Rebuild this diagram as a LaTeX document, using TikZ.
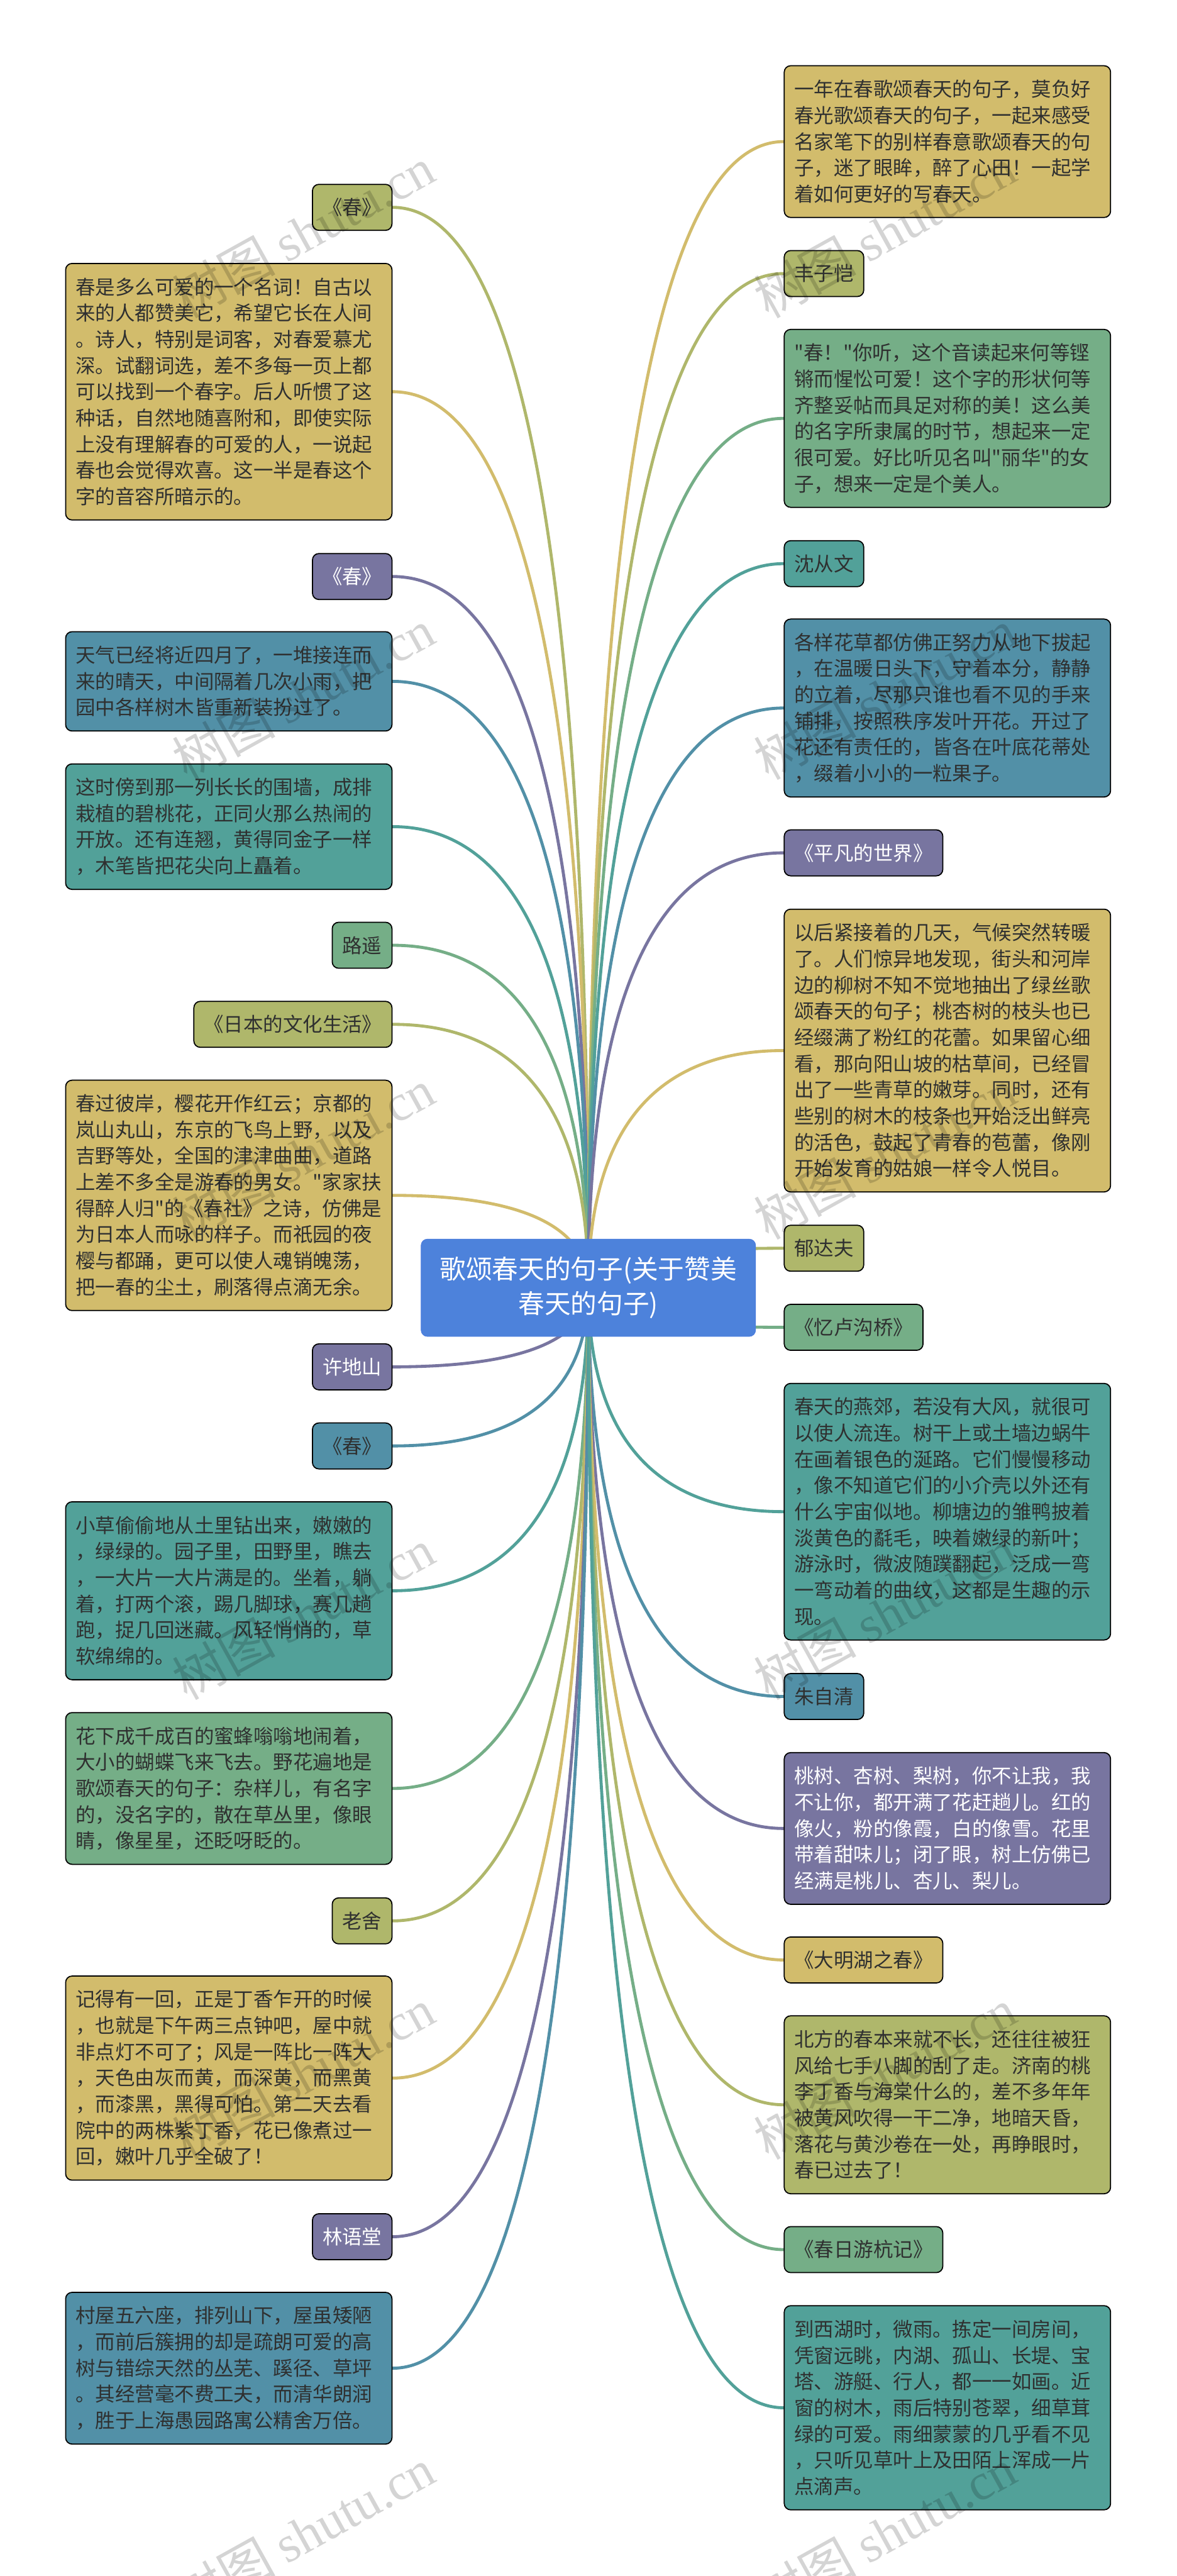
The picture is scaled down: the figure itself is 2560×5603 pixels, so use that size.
\documentclass[tikz,border=0pt]{standalone}
\usepackage{fontspec}
\setmainfont{Noto Sans CJK SC}[Ligatures=TeXOff]
\newfontfamily\markfont{Liberation Serif}
\usetikzlibrary{calc,backgrounds}
\definecolor{cyellow}{HTML}{D2BC6C}
\definecolor{colive}{HTML}{AFB76B}
\definecolor{cgreen}{HTML}{75AE87}
\definecolor{cteal}{HTML}{52A199}
\definecolor{cblue}{HTML}{5290A7}
\definecolor{cpurple}{HTML}{7875A0}
\definecolor{croot}{HTML}{4D82DB}
\definecolor{cink}{HTML}{2F3030}
\tikzset{
  card/.style={draw=black,line width=1.2pt,rounded corners=7pt,inner xsep=11pt,inner ysep=0pt,text=cink},
  para/.style={card,text width=333pt,align=left,font=\fontsize{21.5pt}{28.5pt}\selectfont,minimum height=#1*28.5pt+22.5pt},
  tag/.style={card,minimum height=50pt,font=\fontsize{21.5pt}{28.5pt}\selectfont},
  link/.style={line width=3.3pt,line cap=round},
  wmark/.style={font=\fontsize{56pt}{56pt}\selectfont,rotate=29,text=black,text opacity=0.17}
}
% curve from a left or right branch into the root
\newcommand{\leftlink}[2]{\draw[link,#2] (#1.east) .. controls ($(#1.east)!0.83!(root.center |- #1.east)$) and ($(root.center)!0.47!(root.center |- #1.east)$) .. (root.center);}
\newcommand{\rightlink}[2]{\draw[link,#2] (#1.west) .. controls ($(#1.west)!0.83!(root.center |- #1.west)$) and ($(root.center)!0.47!(root.center |- #1.west)$) .. (root.center);}
\begin{document}
\begin{tikzpicture}[x=0.5pt,y=-0.5pt]
    \useasboundingbox (0,0) rectangle (2560,5603);
    \node[draw=croot!90!blue,fill=croot,rounded corners=7pt,text=white,align=center,minimum width=364pt,minimum height=106pt,font=\fontsize{28.5pt}{38pt}\selectfont] (root) at (1280,2801) {歌颂春天的句子(关于赞美\\春天的句子)};

    % left column
    \node[tag,fill=colive,anchor=east] (spring1) at (854,451) {《春》};
    \node[para=9,fill=cyellow,anchor=east] (lovely) at (854,852) {春是多么可爱的一个名词！自古以\\来的人都赞美它，希望它长在人间\\。诗人，特别是词客，对春爱慕尤\\深。试翻词选，差不多每一页上都\\可以找到一个春字。后人听惯了这\\种话，自然地随喜附和，即使实际\\上没有理解春的可爱的人，一说起\\春也会觉得欢喜。这一半是春这个\\字的音容所暗示的。};
    \node[tag,fill=cpurple,text=white,anchor=east] (spring2) at (854,1254) {《春》};
    \node[para=3,fill=cblue,anchor=east] (weather) at (854,1482) {天气已经将近四月了，一堆接连而\\来的晴天，中间隔着几次小雨，把\\园中各样树木皆重新装扮过了。};
    \node[para=4,fill=cteal,anchor=east] (wall) at (854,1798) {这时傍到那一列长长的围墙，成排\\栽植的碧桃花，正同火那么热闹的\\开放。还有连翘，黄得同金子一样\\，木笔皆把花尖向上矗着。};
    \node[tag,fill=cgreen,anchor=east] (luyao) at (854,2056) {路遥};
    \node[tag,fill=colive,anchor=east] (japan) at (854,2228) {《日本的文化生活》};
    \node[para=8,fill=cyellow,anchor=east] (sakura) at (854,2600) {春过彼岸，樱花开作红云；京都的\\岚山丸山，东京的飞鸟上野，以及\\吉野等处，全国的津津曲曲，道路\\上差不多全是游春的男女。"家家扶\\得醉人归"的《春社》之诗，仿佛是\\为日本人而咏的样子。而祇园的夜\\樱与都踊，更可以使人魂销魄荡，\\把一春的尘土，刷落得点滴无余。};
    \node[tag,fill=cpurple,text=white,anchor=east] (xudishan) at (854,2973) {许地山};
    \node[tag,fill=cblue,anchor=east] (spring3) at (854,3145) {《春》};
    \node[para=6,fill=cteal,anchor=east] (grass) at (854,3460) {小草偷偷地从土里钻出来，嫩嫩的\\，绿绿的。园子里，田野里，瞧去\\，一大片一大片满是的。坐着，躺\\着，打两个滚，踢几脚球，赛几趟\\跑，捉几回迷藏。风轻悄悄的，草\\软绵绵的。};
    \node[para=5,fill=cgreen,anchor=east] (bees) at (854,3890) {花下成千成百的蜜蜂嗡嗡地闹着，\\大小的蝴蝶飞来飞去。野花遍地是\\歌颂春天的句子：杂样儿，有名字\\的，没名字的，散在草丛里，像眼\\睛，像星星，还眨呀眨的。};
    \node[tag,fill=colive,anchor=east] (laoshe) at (854,4178) {老舍};
    \node[para=7,fill=cyellow,anchor=east] (lilac) at (854,4520) {记得有一回，正是丁香乍开的时候\\，也就是下午两三点钟吧，屋中就\\非点灯不可了；风是一阵比一阵大\\，天色由灰而黄，而深黄，而黑黄\\，而漆黑，黑得可怕。第二天去看\\院中的两株紫丁香，花已像煮过一\\回，嫩叶几乎全破了！};
    \node[tag,fill=cpurple,text=white,anchor=east] (linyutang) at (854,4865) {林语堂};
    \node[para=5,fill=cblue,anchor=east] (village) at (854,5151) {村屋五六座，排列山下，屋虽矮陋\\，而前后簇拥的却是疏朗可爱的高\\树与错综天然的丛芜、蹊径、草坪\\。其经营毫不费工夫，而清华朗润\\，胜于上海愚园路寓公精舍万倍。};

    % right column
    \node[para=5,fill=cyellow,anchor=west] (year) at (1705,308) {一年在春歌颂春天的句子，莫负好\\春光歌颂春天的句子，一起来感受\\名家笔下的别样春意歌颂春天的句\\子，迷了眼眸，醉了心田！一起学\\着如何更好的写春天。};
    \node[tag,fill=colive,anchor=west] (fengzikai) at (1705,595) {丰子恺};
    \node[para=6,fill=cgreen,anchor=west] (sound) at (1705,910) {"春！"你听，这个音读起来何等铿\\锵而惺忪可爱！这个字的形状何等\\齐整妥帖而具足对称的美！这么美\\的名字所隶属的时节，想起来一定\\很可爱。好比听见名叫"丽华"的女\\子，想来一定是个美人。};
    \node[tag,fill=cteal,anchor=west] (shencongwen) at (1705,1226) {沈从文};
    \node[para=6,fill=cblue,anchor=west] (flowers) at (1705,1540) {各样花草都仿佛正努力从地下拔起\\，在温暖日头下，守着本分，静静\\的立着，尽那只谁也看不见的手来\\铺排，按照秩序发叶开花。开过了\\花还有责任的，皆各在叶底花蒂处\\，缀着小小的一粒果子。};
    \node[tag,fill=cpurple,text=white,anchor=west] (ordinary) at (1705,1855) {《平凡的世界》};
    \node[para=10,fill=cyellow,anchor=west] (warm) at (1705,2285) {以后紧接着的几天，气候突然转暖\\了。人们惊异地发现，街头和河岸\\边的柳树不知不觉地抽出了绿丝歌\\颂春天的句子；桃杏树的枝头也已\\经缀满了粉红的花蕾。如果留心细\\看，那向阳山坡的枯草间，已经冒\\出了一些青草的嫩芽。同时，还有\\些别的树木的枝条也开始泛出鲜亮\\的活色，鼓起了青春的苞蕾，像刚\\开始发育的姑娘一样令人悦目。};
    \node[tag,fill=colive,anchor=west] (yudafu) at (1705,2715) {郁达夫};
    \node[tag,fill=cgreen,anchor=west] (bridge) at (1705,2887) {《忆卢沟桥》};
    \node[para=9,fill=cteal,anchor=west] (suburb) at (1705,3288) {春天的燕郊，若没有大风，就很可\\以使人流连。树干上或土墙边蜗牛\\在画着银色的涎路。它们慢慢移动\\，像不知道它们的小介壳以外还有\\什么宇宙似地。柳塘边的雏鸭披着\\淡黄色的氄毛，映着嫩绿的新叶；\\游泳时，微波随蹼翻起，泛成一弯\\一弯动着的曲纹，这都是生趣的示\\现。};
    \node[tag,fill=cblue,anchor=west] (zhuziqing) at (1705,3690) {朱自清};
    \node[para=5,fill=cpurple,text=white,anchor=west] (peach) at (1705,3977) {桃树、杏树、梨树，你不让我，我\\不让你，都开满了花赶趟儿。红的\\像火，粉的像霞，白的像雪。花里\\带着甜味儿；闭了眼，树上仿佛已\\经满是桃儿、杏儿、梨儿。};
    \node[tag,fill=cyellow,anchor=west] (daming) at (1705,4263) {《大明湖之春》};
    \node[para=6,fill=colive,anchor=west] (north) at (1705,4578) {北方的春本来就不长，还往往被狂\\风给七手八脚的刮了走。济南的桃\\李丁香与海棠什么的，差不多年年\\被黄风吹得一干二净，地暗天昏，\\落花与黄沙卷在一处，再睁眼时，\\春已过去了！};
    \node[tag,fill=cgreen,anchor=west] (hangzhou) at (1705,4893) {《春日游杭记》};
    \node[para=7,fill=cteal,anchor=west] (westlake) at (1705,5237) {到西湖时，微雨。拣定一间房间，\\凭窗远眺，内湖、孤山、长堤、宝\\塔、游艇、行人，都一一如画。近\\窗的树木，雨后特别苍翠，细草茸\\绿的可爱。雨细蒙蒙的几乎看不见\\，只听见草叶上及田陌上浑成一片\\点滴声。};

    \begin{scope}[on background layer]
    \leftlink{spring1}{colive}
    \leftlink{lovely}{cyellow}
    \leftlink{spring2}{cpurple}
    \leftlink{weather}{cblue}
    \leftlink{wall}{cteal}
    \leftlink{luyao}{cgreen}
    \leftlink{japan}{colive}
    \leftlink{sakura}{cyellow}
    \leftlink{xudishan}{cpurple}
    \leftlink{spring3}{cblue}
    \leftlink{grass}{cteal}
    \leftlink{bees}{cgreen}
    \leftlink{laoshe}{colive}
    \leftlink{lilac}{cyellow}
    \leftlink{linyutang}{cpurple}
    \leftlink{village}{cblue}
    \rightlink{year}{cyellow}
    \rightlink{fengzikai}{colive}
    \rightlink{sound}{cgreen}
    \rightlink{shencongwen}{cteal}
    \rightlink{flowers}{cblue}
    \rightlink{ordinary}{cpurple}
    \rightlink{warm}{cyellow}
    \rightlink{yudafu}{colive}
    \rightlink{bridge}{cgreen}
    \rightlink{suburb}{cteal}
    \rightlink{zhuziqing}{cblue}
    \rightlink{peach}{cpurple}
    \rightlink{daming}{cyellow}
    \rightlink{north}{colive}
    \rightlink{hangzhou}{cgreen}
    \rightlink{westlake}{cteal}
    \end{scope}

    % watermark
    \node[wmark] (mark1) at (660,505) {树图 {\markfont shutu.cn}};
    \node[wmark] (mark2) at (660,1510) {树图 {\markfont shutu.cn}};
    \node[wmark] (mark3) at (660,2510) {树图 {\markfont shutu.cn}};
    \node[wmark] (mark4) at (660,3510) {树图 {\markfont shutu.cn}};
    \node[wmark] (mark5) at (660,4510) {树图 {\markfont shutu.cn}};
    \node[wmark] (mark6) at (660,5510) {树图 {\markfont shutu.cn}};
    \node[wmark] (mark7) at (1925,505) {树图 {\markfont shutu.cn}};
    \node[wmark] (mark8) at (1925,1510) {树图 {\markfont shutu.cn}};
    \node[wmark] (mark9) at (1925,2510) {树图 {\markfont shutu.cn}};
    \node[wmark] (mark10) at (1925,3510) {树图 {\markfont shutu.cn}};
    \node[wmark] (mark11) at (1925,4510) {树图 {\markfont shutu.cn}};
    \node[wmark] (mark12) at (1925,5510) {树图 {\markfont shutu.cn}};
\end{tikzpicture}
\end{document}
